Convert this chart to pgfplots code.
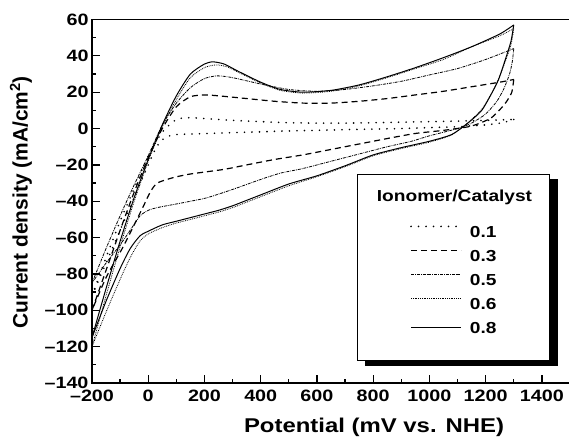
\documentclass[border=0pt]{standalone}
\usepackage{fontspec}
\setmainfont{Liberation Sans}[FakeStretch=1.2]
\newfontfamily\plainsans{Liberation Sans}
\usepackage{pgfplots}
\pgfplotsset{compat=1.18}
\begin{document}
\begin{tikzpicture}
\useasboundingbox (-92bp,-58bp) rectangle (477bp,383bp);
\begin{axis}[
  scale only axis, width=478bp, height=363.5bp,
  xmin=-200, xmax=1500, ymin=-140, ymax=60,
  xtick={-200,0,200,400,600,800,1000,1200,1400},
  xticklabels={--200,0,200,400,600,800,1000,1200,1400},
  ytick={-140,-120,-100,-80,-60,-40,-20,0,20,40,60},
  yticklabels={--140,--120,--100,--80,--60,--40,--20,0,20,40,60},
  minor x tick num=1, minor y tick num=1,
  tick pos=left, tick align=inside,
  major tick length=8bp, minor tick length=4bp,
  axis line style={line width=1.6bp},
  every tick/.style={line width=1.3bp, black},
  tick label style={font=\bfseries\fontsize{16.5}{16.5}\selectfont},
  xticklabel style={yshift=-3.5bp},
  xlabel={Potential (mV vs. NHE)},
  ylabel={Current density (mA/cm\textsuperscript{2})},
  xlabel style={font=\bfseries\fontsize{20}{20}\selectfont, at={(axis description cs:0.59,-0.121)}, anchor=center},
  ylabel style={font=\plainsans\bfseries\fontsize{21}{21}\selectfont, at={(axis description cs:-0.1485,0.4966)}, anchor=center},
  legend style={name=leg, at={(axis description cs:0.958,0.0605)}, anchor=south east,
    draw=black, line width=0.8bp, fill=white,
    font=\bfseries\fontsize{16}{16}\selectfont,
    nodes={inner sep=0bp, text height=11.5bp, text depth=},
    inner xsep=53bp, inner ysep=16bp, row sep=12bp, column sep=8bp},
  legend cell align=left,
  legend image code/.code={\draw[#1] (0bp,5.75bp) -- (50bp,5.75bp);},
]
\addlegendimage{empty legend}
\addlegendentry{\hspace*{-93bp}Ionomer/Catalyst\rule[-11.5bp]{0pt}{0pt}\hspace*{-41bp}}
% 0.1
\addplot[black, line width=1.8bp, line cap=round, dash pattern=on 0bp off 7.5bp, smooth, tension=0.4] coordinates {
(-200,-92) (-150,-71) (-100,-51) (-50,-33) (0,-15) (50,-2) (100,5) (150,6) (200,5.5) (300,4.5) (400,3.8) (500,3.2) (600,3) (700,3) (800,3.2) (900,3.5) (1000,3.8) (1100,4.1) (1200,4.5) (1300,5)
};
\addlegendentry{0.1}
\addplot[forget plot, black, line width=1.8bp, line cap=round, dash pattern=on 0bp off 7.5bp, smooth, tension=0.4] coordinates {
(1300,5) (1280,4) (1250,3) (1200,2) (1150,1.5) (1100,1) (1000,0.5) (900,0) (800,-0.3) (700,-0.6) (600,-1) (500,-1.3) (400,-1.8) (300,-2.3) (200,-2.8) (100,-3.3) (60,-5) (30,-10) (0,-20) (-50,-38) (-100,-56) (-150,-74) (-200,-92)
};
% 0.3
\addplot[black, line width=1.2bp, dash pattern=on 6bp off 4bp, smooth, tension=0.4] coordinates {
(-200,-100) (-150,-78) (-100,-56) (-50,-35) (0,-16) (50,0) (100,12) (150,17.5) (200,18.5) (250,18) (350,16.5) (450,15) (550,14) (650,14) (750,15) (850,16.5) (950,18.5) (1050,20.5) (1150,23) (1250,25.5) (1300,27)
};
\addlegendentry{0.3}
\addplot[forget plot, black, line width=1.2bp, dash pattern=on 6bp off 4bp, smooth, tension=0.4] coordinates {
(1300,27) (1293,20) (1275,15) (1257,11.5) (1221,6) (1180,3) (1139,1) (1050,-1) (950,-2.7) (850,-5.5) (750,-8.5) (650,-11.5) (550,-14.5) (450,-17) (350,-20) (268,-22.5) (150,-25) (89,-27) (32,-30) (7,-35) (-18,-43) (-50,-53) (-89,-65) (-150,-82) (-200,-100)
};
% 0.5
\addplot[black, line width=0.8bp, dash pattern=on 3bp off 1bp on 0.8bp off 1bp, smooth, tension=0.4] coordinates {
(-200,-85) (-150,-66) (-100,-48) (-50,-31) (0,-15) (50,2) (100,14) (150,22.5) (200,27.5) (246,29) (300,28) (400,24.5) (500,21.5) (600,20.5) (700,21.5) (800,23.5) (900,26) (1000,29.5) (1100,33) (1200,38) (1300,44)
};
\addlegendentry{0.5}
\addplot[forget plot, black, line width=0.8bp, dash pattern=on 3bp off 1bp on 0.8bp off 1bp, smooth, tension=0.4] coordinates {
(1300,44) (1295,37) (1285,30) (1265,22) (1240,15) (1200,8) (1150,3) (1100,0) (1000,-4) (936,-7) (850,-10) (750,-14) (650,-18) (550,-22) (471,-24.5) (400,-28) (300,-33.5) (211,-38) (150,-40) (100,-41.5) (32,-43.5) (0,-45) (-29,-48) (-60,-55) (-100,-64) (-150,-74) (-200,-85)
};
% 0.6
\addplot[black, line width=0.8bp, dash pattern=on 0.8bp off 1bp, smooth, tension=0.4] coordinates {
(-200,-120) (-150,-92) (-100,-65) (-50,-40) (0,-18) (50,1) (100,16) (150,28) (200,33.5) (240,35) (280,34) (320,31) (400,25) (470,21) (550,19.5) (650,20.5) (750,23.5) (850,28) (950,33) (1050,38) (1150,45) (1250,51) (1300,55)
};
\addlegendentry{0.6}
\addplot[forget plot, black, line width=0.8bp, dash pattern=on 0.8bp off 1bp, smooth, tension=0.4] coordinates {
(1300,55) (1290,46) (1270,37) (1245,27) (1220,19) (1186,10.5) (1139,3.5) (1079,-3.5) (1000,-7.5) (900,-11) (800,-15) (700,-21) (600,-26.5) (500,-31.5) (400,-37.5) (350,-40.5) (300,-43.5) (250,-46) (200,-48) (150,-50) (100,-52) (50,-54.5) (0,-58) (-30,-62) (-64,-71) (-100,-83) (-150,-101) (-200,-120)
};
% 0.8
\addplot[black, line width=1bp, smooth, tension=0.4] coordinates {
(-200,-115) (-150,-88) (-100,-62) (-50,-38) (0,-17) (50,2) (100,18) (150,30) (200,35.5) (230,36.7) (270,35.5) (320,31.5) (400,25.5) (470,21.5) (550,20) (650,21) (750,24) (850,28.5) (950,33.5) (1050,39) (1150,45) (1250,52) (1300,57)
};
\addlegendentry{0.8\rule[-11bp]{0pt}{0pt}}
\addplot[forget plot, black, line width=1bp, smooth, tension=0.4] coordinates {
(1300,57) (1290,48) (1270,38) (1246,27) (1220,19) (1186,10) (1139,3.3) (1079,-3.3) (1000,-7) (900,-10.5) (800,-14.5) (700,-20.5) (600,-26) (500,-30.5) (400,-36.5) (350,-39.5) (300,-42.5) (250,-45) (200,-47) (150,-49) (100,-51) (50,-53) (0,-56.5) (-29,-59) (-64,-66) (-100,-77) (-150,-95) (-200,-115)
};
\end{axis}
\fill[black] ([yshift=-5bp]leg.north east) rectangle ([xshift=8bp,yshift=-5bp]leg.south east);
\fill[black] ([xshift=8bp]leg.south west) rectangle ([xshift=8bp,yshift=-5bp]leg.south east);
\end{tikzpicture}
\end{document}
